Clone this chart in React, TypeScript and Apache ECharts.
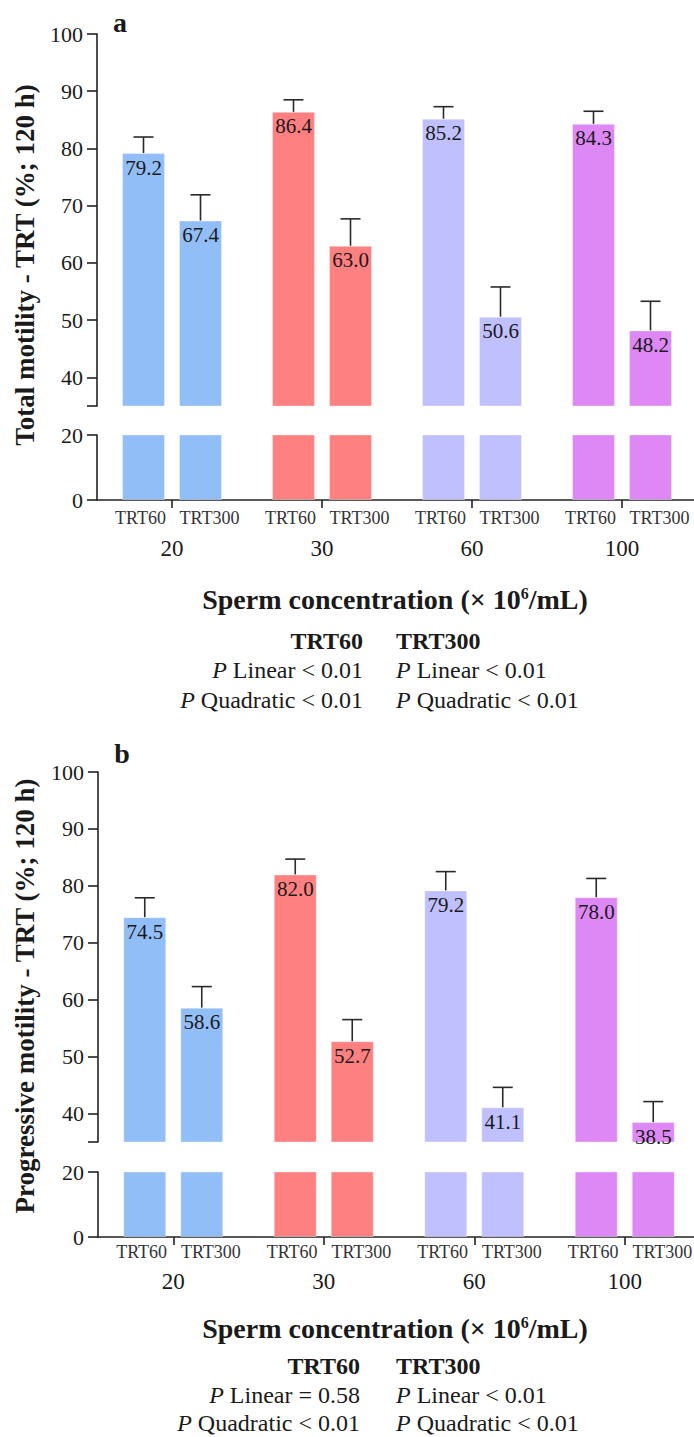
import React, { useEffect, useRef } from 'react';
import * as echarts from 'echarts';

// ---------- data ----------
const groups = ['20', '30', '60', '100'];
const subLabels = ['TRT60', 'TRT300', 'TRT60', 'TRT300', 'TRT60', 'TRT300', 'TRT60', 'TRT300'];
const groupColors = ['#92BEF8', '#FF8080', '#C0C0FF', '#DD88F5'];

// Panel a: total motility
const totalTRT60 = [79.2, 86.4, 85.2, 84.3];
const totalTRT300 = [67.4, 63.0, 50.6, 48.2];
const totalTRT60Err = [2.8, 2.1, 2.1, 2.2];
const totalTRT300Err = [4.5, 4.7, 5.2, 5.1];

// Panel b: progressive motility
const progTRT60 = [74.5, 82.0, 79.2, 78.0];
const progTRT300 = [58.6, 52.7, 41.1, 38.5];
const progTRT60Err = [3.4, 2.7, 3.3, 3.3];
const progTRT300Err = [3.7, 3.8, 3.5, 3.6];

// Axis ticks
const upperTicks = [40, 50, 60, 70, 80, 90, 100];
const breakValue = 35;
const upperMax = 100;
const lowerTicks = [0, 20];

// Stats
const statsA = {
  left: ['TRT60', 'Linear < 0.01', 'Quadratic < 0.01'],
  right: ['TRT300', 'Linear < 0.01', 'Quadratic < 0.01'],
};
const statsB = {
  left: ['TRT60', 'Linear = 0.58', 'Quadratic < 0.01'],
  right: ['TRT300', 'Linear < 0.01', 'Quadratic < 0.01'],
};

// ---------- style ----------
const serif = '"Liberation Serif", "Times New Roman", Times, serif';
const ink = '#1a1a1a';
const BAR_W = 43;
const BAR_GAP = 14;
const OFFSET = (BAR_W + BAR_GAP) / 2;

function barSeries(name: string, values: number[], xi: number, yi: number, label: boolean) {
  return {
    type: 'bar',
    name,
    xAxisIndex: xi,
    yAxisIndex: yi,
    barWidth: BAR_W,
    barGap: (BAR_GAP / BAR_W) * 100 + '%',
    clip: true,
    silent: true,
    data: values.map((v, i) => ({
      value: v,
      itemStyle: { color: groupColors[i], borderColor: 'rgba(255,255,255,0.35)', borderWidth: 1 },
    })),
    label: label
      ? {
          show: true,
          position: 'insideTop',
          distance: 4,
          formatter: (p: any) => Number(p.value).toFixed(1),
          fontFamily: serif,
          fontSize: 21,
          color: ink,
        }
      : { show: false },
  };
}

function errSeries(name: string, values: number[], errs: number[], xi: number, yi: number, offset: number) {
  return {
    type: 'custom',
    name,
    xAxisIndex: xi,
    yAxisIndex: yi,
    silent: true,
    z: 5,
    data: values.map((v, i) => [i, v, v + errs[i]]),
    renderItem: (params: any, api: any) => {
      const i = api.value(0);
      const base = api.coord([i, api.value(1)]);
      const top = api.coord([i, api.value(2)]);
      const x = base[0] + offset;
      const st = { stroke: '#2a2a2a', lineWidth: 1.6 };
      return {
        type: 'group',
        children: [
          { type: 'line', shape: { x1: x, y1: base[1], x2: x, y2: top[1] }, style: st },
          { type: 'line', shape: { x1: x - 10, y1: top[1], x2: x + 10, y2: top[1] }, style: st },
        ],
      };
    },
  };
}

const axisLineStyle = { color: '#222', width: 1.6 };

function upperY(gi: number) {
  return {
    type: 'value',
    gridIndex: gi,
    min: breakValue,
    max: upperMax,
    axisLine: { show: true, lineStyle: axisLineStyle },
    axisTick: { show: true, length: 10, customValues: [breakValue, ...upperTicks], lineStyle: axisLineStyle },
    axisLabel: { customValues: upperTicks, fontSize: 22, fontFamily: serif, color: ink, margin: 14 },
    splitLine: { show: false },
  };
}
function lowerY(gi: number) {
  return {
    type: 'value',
    gridIndex: gi,
    min: lowerTicks[0],
    max: lowerTicks[lowerTicks.length - 1],
    interval: lowerTicks[1] - lowerTicks[0],
    axisLine: { show: true, lineStyle: axisLineStyle },
    axisTick: { show: true, length: 10, lineStyle: axisLineStyle },
    axisLabel: { fontSize: 22, fontFamily: serif, color: ink, margin: 14 },
    splitLine: { show: false },
  };
}
function hiddenX(gi: number) {
  return { type: 'category', gridIndex: gi, data: groups, show: false };
}
function groupX(gi: number, margin: number) {
  return {
    type: 'category',
    gridIndex: gi,
    position: 'bottom',
    data: groups,
    axisLine: { show: true, onZero: false, lineStyle: axisLineStyle },
    axisTick: { show: true, alignWithLabel: true, length: 8, lineStyle: axisLineStyle },
    axisLabel: { fontSize: 23, fontFamily: serif, color: ink, margin },
    splitLine: { show: false },
  };
}
function subX(gi: number, margin: number) {
  return {
    type: 'category',
    gridIndex: gi,
    position: 'bottom',
    offset: 0,
    data: subLabels,
    axisLine: { show: false },
    axisTick: { show: false },
    axisLabel: {
      margin,
      interval: 0,
      formatter: (v: string) => (v === 'TRT60' ? '{a|' + v + '}' : '{b|' + v + '}'),
      rich: {
        a: { fontSize: 18, fontFamily: serif, color: '#333', padding: [0, 0, 0, 12] },
        b: { fontSize: 18, fontFamily: serif, color: '#333' },
      },
    },
  };
}

function txt(text: string, x: number, y: number, size: number, opts: any = {}) {
  return {
    type: 'text',
    x,
    y,
    rotation: opts.rotation || 0,
    silent: true,
    style: {
      text,
      fontSize: size,
      fontFamily: serif,
      fontWeight: opts.bold ? 'bold' : 'normal',
      fill: ink,
      align: opts.align || 'center',
      verticalAlign: 'middle',
      textAlign: opts.align || 'center',
      textVerticalAlign: 'middle',
      rich: opts.rich,
    },
  };
}

const italicRich = {
  i: { fontStyle: 'italic', fontSize: 24, fontFamily: serif, fill: ink, color: ink },
  n: { fontSize: 24, fontFamily: serif, fill: ink, color: ink },
};
const titleRich = {
  b: { fontWeight: 'bold', fontSize: 28, fontFamily: serif, fill: ink, color: ink },
  s: { fontWeight: 'bold', fontSize: 16, fontFamily: serif, fill: ink, color: ink, verticalAlign: 'top' },
};

function statsGraphics(stats: any, splitLeft: number, splitRight: number, rows: number[]) {
  const out: any[] = [];
  out.push(txt(stats.left[0], splitLeft, rows[0], 24, { bold: true, align: 'right' }));
  out.push(txt(stats.right[0], splitRight, rows[0], 24, { bold: true, align: 'left' }));
  for (let k = 1; k < 3; k++) {
    out.push(txt('{i|P} {n|' + stats.left[k] + '}', splitLeft, rows[k], 24, { align: 'right', rich: italicRich }));
    out.push(txt('{i|P} {n|' + stats.right[k] + '}', splitRight, rows[k], 24, { align: 'left', rich: italicRich }));
  }
  return out;
}

export default function App() {
  const ref = useRef<HTMLDivElement>(null);
  useEffect(() => {
    if (!ref.current) return;
    const chart = echarts.init(ref.current, null, { renderer: 'svg' });
    const option: any = {
      animation: false,
      backgroundColor: '#ffffff',
      grid: [
        { left: 97, top: 34, width: 600, height: 372, outerBoundsMode: 'none' },
        { left: 97, top: 435, width: 600, height: 65, outerBoundsMode: 'none' },
        { left: 98, top: 772, width: 602, height: 370, outerBoundsMode: 'none' },
        { left: 98, top: 1172, width: 602, height: 65, outerBoundsMode: 'none' },
      ],
      xAxis: [hiddenX(0), groupX(1, 37), subX(1, 9), hiddenX(2), groupX(3, 33), subX(3, 6)],
      yAxis: [upperY(0), lowerY(1), upperY(2), lowerY(3)],
      series: [
        barSeries('TRT60', totalTRT60, 0, 0, true),
        barSeries('TRT300', totalTRT300, 0, 0, true),
        errSeries('TRT60 SE', totalTRT60, totalTRT60Err, 0, 0, -OFFSET),
        errSeries('TRT300 SE', totalTRT300, totalTRT300Err, 0, 0, OFFSET),
        barSeries('TRT60', totalTRT60, 1, 1, false),
        barSeries('TRT300', totalTRT300, 1, 1, false),
        barSeries('TRT60', progTRT60, 3, 2, true),
        barSeries('TRT300', progTRT300, 3, 2, true),
        errSeries('TRT60 SE', progTRT60, progTRT60Err, 3, 2, -OFFSET),
        errSeries('TRT300 SE', progTRT300, progTRT300Err, 3, 2, OFFSET),
        barSeries('TRT60', progTRT60, 4, 3, false),
        barSeries('TRT300', progTRT300, 4, 3, false),
      ],
      graphic: [
        txt('a', 120, 22, 28, { bold: true }),
        txt('b', 122, 753, 28, { bold: true }),
        txt('Total motility - TRT (%; 120 h)', 25, 265, 27, { bold: true, rotation: Math.PI / 2 }),
        txt('Progressive motility - TRT (%; 120 h)', 25, 996, 27, { bold: true, rotation: Math.PI / 2 }),
        txt('{b|Sperm concentration (× 10}{s|6}{b|/mL)}', 395, 599, 28, { bold: true, rich: titleRich }),
        txt('{b|Sperm concentration (× 10}{s|6}{b|/mL)}', 395, 1328, 28, { bold: true, rich: titleRich }),
        ...statsGraphics(statsA, 363, 396, [641, 670, 700]),
        ...statsGraphics(statsB, 360, 396, [1366, 1395, 1423]),
      ],
    };
    chart.setOption(option);
    return () => chart.dispose();
  }, []);
  return (
    <div
      ref={ref}
      style={{ position: 'absolute', left: 0, top: 0, width: 694, height: 1437, background: '#fff' }}
    />
  );
}
